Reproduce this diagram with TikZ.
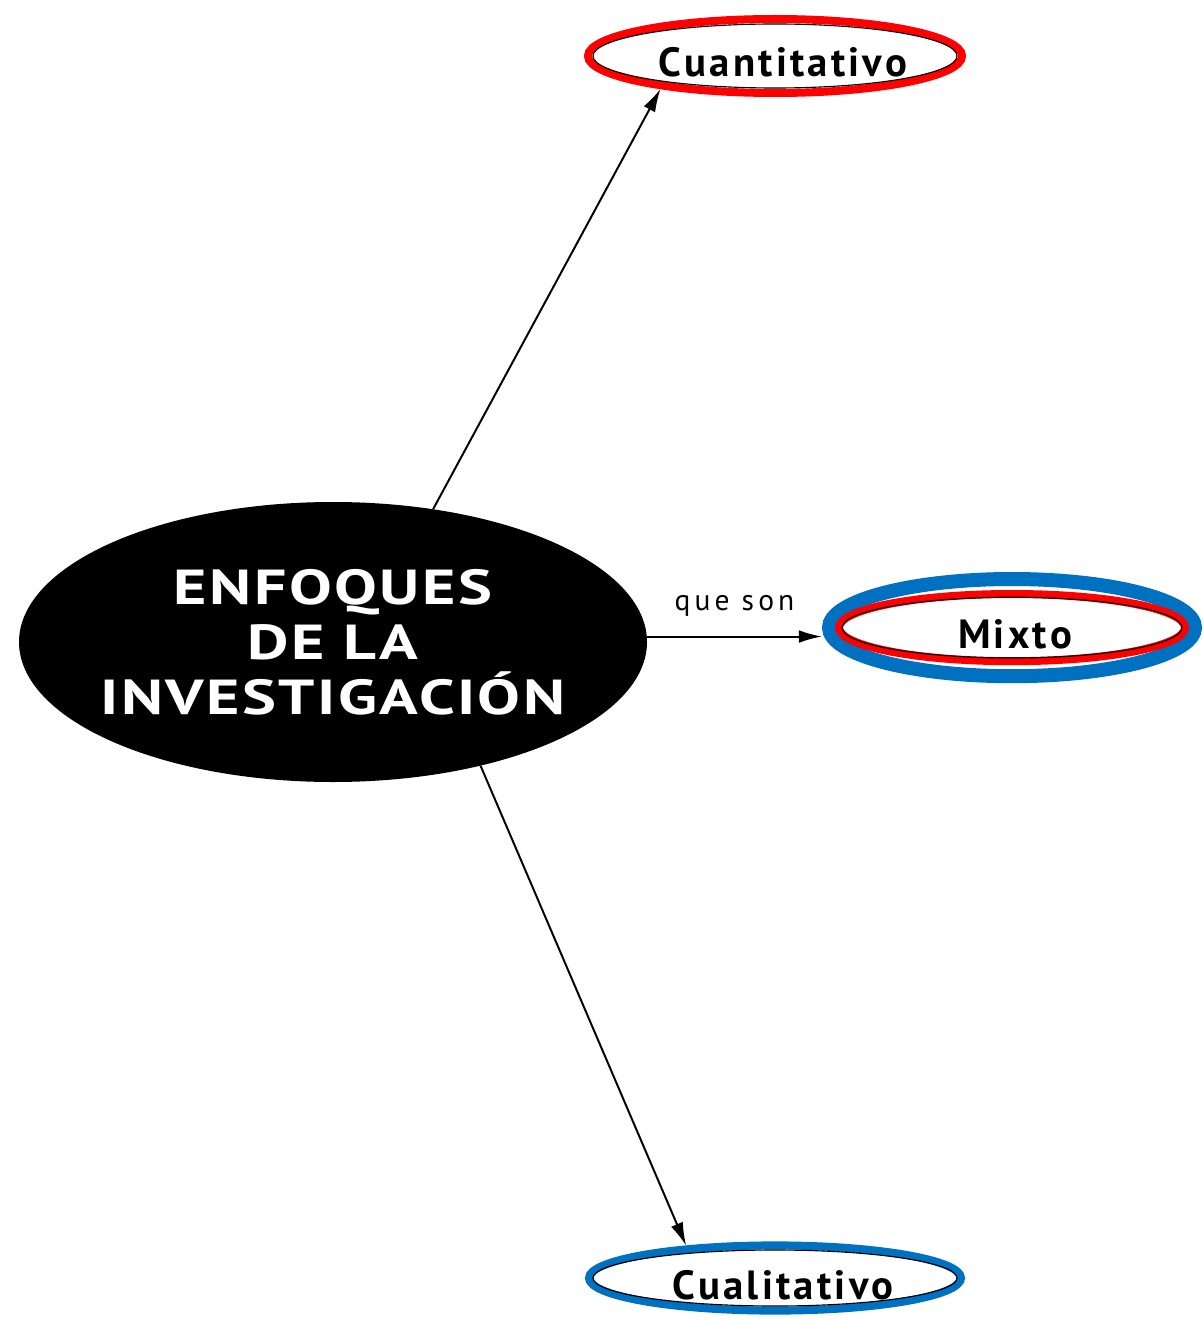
\documentclass[tikz,border=0pt]{standalone}
\usepackage{fontspec}
\setmainfont{PT Sans}
\newfontfamily\temafont[FakeStretch=1.3,LetterSpace=5]{PT Sans}
\newfontfamily\tipofont[LetterSpace=8]{PT Sans}
\newfontfamily\rotulofont[LetterSpace=14]{PT Sans}
\usetikzlibrary{shapes.geometric,arrows.meta}
\definecolor{ringred}{RGB}{255,0,0}
\definecolor{ringblue}{RGB}{0,112,192}

\begin{document}
\begin{tikzpicture}[
    tema/.style={ellipse, fill=black, text=white, align=center,
        inner xsep=-0.6cm, inner ysep=0pt,
        font=\temafont\bfseries\fontsize{35}{39}\selectfont,
        minimum width=15.7cm, minimum height=7cm},
    tipo/.style={ellipse, line width=0.2cm, inner sep=0pt,
        font=\tipofont\bfseries\fontsize{29}{31}\selectfont,
        text height=1.05cm, text depth=0pt, minimum width=9.3cm},
    contorno/.style={black, line width=0.8pt},
    flecha/.style={-{Latex[length=0.58cm,width=0.32cm]}, line width=1.4pt},
]
        % --- Canvas ---
        \useasboundingbox (0,0) rectangle (30.05,-32.975);
        % --- Main node ---
        \node[tema] (enfoques) at (8.325,-16.05) {ENFOQUES\\DE LA\\INVESTIGACIÓN};
        % --- Types ---
        \node[tipo, draw=ringred, minimum height=1.85cm] (cuant) at (19.375,-1.4) {\hspace*{0.4cm}Cuantitativo};
        \node[tipo, draw=ringblue, line width=0.35cm, minimum width=9.15cm,
              minimum height=2.43cm] (mixto) at (25.3,-15.69) {\hspace*{0.15cm}Mixto};
        \node[tipo, draw=ringblue, minimum height=1.63cm] (cuali) at (19.375,-31.95) {\hspace*{0.4cm}Cualitativo};
        % --- Inner outlines ---
        \draw[contorno] (cuant.center) ellipse (4.55cm and 0.8cm);
        \draw[ringred, line width=0.2cm] (mixto.center) ellipse (4.325cm and 0.84cm);
        \draw[contorno] (mixto.center) ellipse (4.25cm and 0.76cm);
        \draw[contorno] (cuali.center) ellipse (4.55cm and 0.7cm);
        % --- Connectors ---
        \draw[flecha] (enfoques.53) -- (cuant.196);
        \draw[flecha] (enfoques.1) -- (mixto.west |- enfoques.1)
            node[midway, above, yshift=0.35cm, font=\rotulofont\fontsize{21}{23}\selectfont] (queson) {que son};
        \draw[flecha] (enfoques.-40) -- (cuali.160);
\end{tikzpicture}
\end{document}
